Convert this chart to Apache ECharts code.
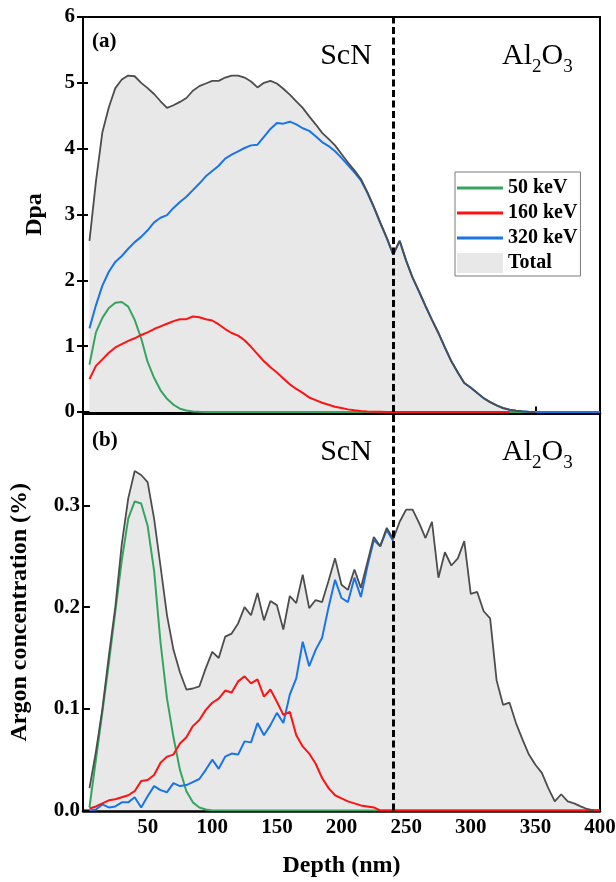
<!DOCTYPE html>
<html>
<head>
<meta charset="utf-8">
<title>Dpa and Ar concentration vs depth</title>
<script src="https://cdn.jsdelivr.net/npm/echarts@6/dist/echarts.min.js"></script>
<style>
  html, body { margin: 0; padding: 0; background: #fff; }
  #chart { width: 616px; height: 882px; }
</style>
</head>
<body>
<div id="chart"></div>
<script>
// Depth grid (nm), shared by every profile
const depth = [5, 10, 15, 20, 25, 30, 35, 40, 45, 50, 55, 60, 65, 70, 75, 80, 85, 90, 95, 100,
  105, 110, 115, 120, 125, 130, 135, 140, 145, 150, 155, 160, 165, 170, 175, 180, 185, 190, 195, 200,
  205, 210, 215, 220, 225, 230, 235, 240, 245, 250, 255, 260, 265, 270, 275, 280, 285, 290, 295, 300,
  305, 310, 315, 320, 325, 330, 335, 340, 345, 350, 355, 360, 365, 370, 375, 380, 385, 390, 395, 400];

// (a) displacement damage, dpa
const dpa50 = [0.72, 1.21, 1.43, 1.58, 1.66, 1.67, 1.6, 1.4, 1.12, 0.76, 0.52, 0.33, 0.2, 0.11, 0.05, 0.022, 0.008, 0.002, 0, 0,
  0, 0, 0, 0, 0, 0, 0, 0, 0, 0, 0, 0, 0, 0, 0, 0, 0, 0, 0, 0,
  0, 0, 0, 0, 0, 0, 0, 0, 0, 0, 0, 0, 0, 0, 0, 0, 0, 0, 0, 0,
  0, 0, 0, 0, 0, 0, 0, 0, 0, 0, 0, 0, 0, 0, 0, 0, 0, 0, 0, 0];
const dpa160 = [0.5, 0.7, 0.8, 0.9, 0.98, 1.03, 1.08, 1.12, 1.17, 1.21, 1.26, 1.3, 1.34, 1.38, 1.41, 1.41, 1.45, 1.44, 1.41, 1.39,
  1.33, 1.26, 1.2, 1.16, 1.09, 0.99, 0.88, 0.77, 0.68, 0.6, 0.51, 0.42, 0.35, 0.29, 0.22, 0.18, 0.14, 0.11, 0.08, 0.06,
  0.04, 0.025, 0.015, 0.008, 0.004, 0.002, 0, 0, 0, 0, 0, 0, 0, 0, 0, 0, 0, 0, 0, 0,
  0, 0, 0, 0, 0, 0, null, null, null, null, null, null, null, null, null, null, null, null, null, null];
const dpa320 = [1.27, 1.62, 1.92, 2.13, 2.28, 2.37, 2.48, 2.58, 2.66, 2.76, 2.88, 2.95, 2.99, 3.1, 3.19, 3.27, 3.37, 3.47, 3.58, 3.66,
  3.74, 3.85, 3.91, 3.96, 4.01, 4.05, 4.06, 4.18, 4.3, 4.39, 4.38, 4.41, 4.37, 4.31, 4.27, 4.19, 4.1, 4.04, 3.96, 3.86,
  3.75, 3.64, 3.52, 3.33, 3.11, 2.87, 2.64, 2.39, 2.6, 2.3, 2.04, 1.83, 1.61, 1.4, 1.2, 0.98, 0.77, 0.6, 0.44, 0.37,
  0.29, 0.21, 0.15, 0.1, 0.06, 0.035, 0.02, 0.01, 0.003, 0, 0, 0, 0, 0, 0, 0, 0, 0, 0, 0];
const dpaTotal = [2.6, 3.5, 4.25, 4.63, 4.92, 5.05, 5.11, 5.1, 5.0, 4.92, 4.83, 4.72, 4.62, 4.66, 4.71, 4.77, 4.88, 4.95, 4.99, 5.03,
  5.03, 5.08, 5.11, 5.11, 5.08, 5.02, 4.93, 5.0, 5.03, 4.99, 4.91, 4.82, 4.72, 4.62, 4.49, 4.37, 4.24, 4.15, 4.05, 3.92,
  3.79, 3.67, 3.54, 3.34, 3.12, 2.88, 2.65, 2.39, 2.6, 2.3, 2.04, 1.83, 1.61, 1.4, 1.2, 0.98, 0.77, 0.6, 0.44, 0.37,
  0.29, 0.21, 0.15, 0.1, 0.06, 0.035, 0.02, 0.01, 0.003, 0, null, null, null, null, null, null, null, null, null, null];

// (b) argon concentration, %
const ar50 = [0.003, 0.05, 0.097, 0.145, 0.196, 0.246, 0.287, 0.304, 0.302, 0.28, 0.236, 0.165, 0.11, 0.072, 0.04, 0.019, 0.008, 0.003, 0.001, 0,
  0, 0, 0, 0, 0, 0, 0, 0, 0, 0, 0, 0, 0, 0, 0, 0, 0, 0, 0, 0,
  0, 0, 0, 0, 0, 0, 0, 0, 0, 0, 0, 0, 0, 0, 0, 0, 0, 0, 0, 0,
  0, 0, 0, 0, 0, 0, 0, 0, 0, 0, 0, 0, 0, 0, 0, 0, 0, 0, 0, 0];
const ar160 = [0.002, 0.004, 0.007, 0.01, 0.011, 0.013, 0.015, 0.019, 0.029, 0.03, 0.035, 0.047, 0.053, 0.055, 0.066, 0.072, 0.083, 0.089, 0.099, 0.106,
  0.11, 0.118, 0.116, 0.127, 0.132, 0.125, 0.129, 0.112, 0.119, 0.107, 0.094, 0.097, 0.074, 0.063, 0.056, 0.046, 0.032, 0.022, 0.015, 0.012,
  0.009, 0.007, 0.005, 0.004, 0.003, 0, 0, 0, 0, 0, 0, 0, 0, 0, 0, 0, 0, 0, 0, 0,
  0, 0, 0, 0, 0, 0, 0, 0, 0, 0, 0, 0, 0, 0, 0, 0, 0, 0, 0, 0];
const ar320 = [0, 0.001, 0.006, 0.003, 0.004, 0.008, 0.008, 0.013, 0.003, 0.014, 0.024, 0.02, 0.018, 0.027, 0.024, 0.025, 0.028, 0.031, 0.04, 0.05,
  0.041, 0.053, 0.056, 0.055, 0.068, 0.067, 0.086, 0.074, 0.084, 0.096, 0.086, 0.114, 0.13, 0.166, 0.142, 0.158, 0.17, 0.2, 0.227, 0.209,
  0.205, 0.229, 0.21, 0.24, 0.266, 0.26, 0.276, 0.265, null, null, null, null, null, null, null, null, null, null, null, null,
  null, null, null, null, null, null, null, null, null, null, null, null, null, null, null, null, null, null, null, null];
const arTotal = [0.022, 0.058, 0.1, 0.152, 0.2, 0.262, 0.307, 0.334, 0.33, 0.323, 0.287, 0.24, 0.192, 0.158, 0.136, 0.119, 0.12, 0.122, 0.14, 0.156,
  0.15, 0.171, 0.174, 0.184, 0.2, 0.192, 0.214, 0.187, 0.206, 0.202, 0.178, 0.211, 0.204, 0.232, 0.199, 0.207, 0.205, 0.226, 0.248, 0.222,
  0.217, 0.237, 0.219, 0.244, 0.269, 0.26, 0.278, 0.267, 0.284, 0.296, 0.296, 0.283, 0.268, 0.284, 0.229, 0.254, 0.241, 0.248, 0.265, 0.213,
  0.215, 0.196, 0.189, 0.128, 0.104, 0.106, 0.086, 0.07, 0.055, 0.045, 0.037, 0.022, 0.009, 0.016, 0.009, 0.007, 0.004, 0.0015, 0, null];

const seriesNames = ['50 keV', '160 keV', '320 keV', 'Total'];
const interfaceDepth = 240;   // ScN / Al2O3 interface, nm

const serif = "'Liberation Serif', 'Times New Roman', Times, serif";
const COLORS = { '50 keV': '#35a45e', '160 keV': '#ff1212', '320 keV': '#1a74e8' };
const TOTAL_LINE = '#4d4d4d';
const TOTAL_FILL = '#e8e8e8';

const pts = vals => depth.map((d, i) => [d, vals[i]]);

function panelSeries(gridIdx, yIdx, v50, v160, v320, vTot) {
  const base = {
    type: 'line', xAxisIndex: gridIdx, yAxisIndex: yIdx, symbol: 'none',
    silent: true, animation: false, connectNulls: false, emphasis: { disabled: true }
  };
  const colored = (name, vals) => ({
    ...base, name, data: pts(vals), z: 2,
    lineStyle: { color: COLORS[name], width: 2 }, itemStyle: { color: COLORS[name] }
  });
  return [
    { ...base, name: 'Total', data: pts(vTot), z: 1,
      lineStyle: { width: 0, opacity: 0 }, itemStyle: { color: TOTAL_FILL },
      areaStyle: { color: TOTAL_FILL, opacity: 1 } },
    colored('50 keV', v50),
    colored('320 keV', v320),
    colored('160 keV', v160),
    { ...base, name: 'Total', data: pts(vTot), z: 4,
      lineStyle: { color: TOTAL_LINE, width: 1.8 }, itemStyle: { color: TOTAL_LINE },
      markLine: {
        silent: true, animation: false, symbol: ['none', 'none'], label: { show: false },
        lineStyle: { color: '#000', width: 3, type: [7, 3.5], opacity: 1 },
        emphasis: { disabled: true },
        data: [{ xAxis: interfaceDepth }]
      } }
  ];
}

// text helpers
const measureCtx = document.createElement('canvas').getContext('2d');
function textWidth(t, font) { measureCtx.font = font; return measureCtx.measureText(t).width; }
function txt(t, x, y, size, weight, align) {
  const font = (weight || 'normal') + ' ' + size + 'px ' + serif;
  return {
    type: 'text', x, y, silent: true, z: 100,
    style: { text: t, font, fill: '#000', align: align || 'left', verticalAlign: 'middle',
             textAlign: align || 'left', textVerticalAlign: 'middle' }
  };
}
// chemical formula with subscripts, e.g. Al2O3
function formula(parts, x, y) {
  const out = [];
  let cx = x;
  parts.forEach(([t, sub]) => {
    const size = sub ? 19 : 30;
    out.push(txt(t, cx, sub ? y + 11.5 : y, size));
    cx += textWidth(t, 'normal ' + size + 'px ' + serif);
  });
  return out;
}
const AL2O3 = [['Al', false], ['2', true], ['O', false], ['3', true]];

const axisBlack = { color: '#000', width: 2 };
const tickFont = { fontFamily: serif, fontWeight: 'bold', fontSize: 21, color: '#000' };
const titleFont = { fontFamily: serif, fontWeight: 'bold', fontSize: 24, color: '#000' };

// legend key for a plain line: a thin bar spanning the whole key width
const LINE_KEY = 'path://M0,0 L46,0 L46,3 L0,3 Z';
const lineLegend = name => ({ name, icon: LINE_KEY, itemStyle: { color: COLORS[name], borderWidth: 0, opacity: 1 } });

const option = {
  animation: false,
  backgroundColor: '#fff',
  grid: [
    { left: 83, top: 17, width: 517, height: 395, show: true, borderColor: '#000', borderWidth: 2,
      backgroundColor: 'transparent', containLabel: false, outerBoundsMode: 'none' },
    { left: 83, top: 414, width: 517, height: 396.5, show: true, borderColor: '#000', borderWidth: 2,
      backgroundColor: 'transparent', containLabel: false, outerBoundsMode: 'none' }
  ],
  xAxis: [
    { gridIndex: 0, type: 'value', position: 'bottom', min: 0, max: 400, interval: 50, offset: 1.5,
      axisLine: { show: true, onZero: false, lineStyle: { color: '#000', width: 2.5 } },
      axisTick: { show: true, inside: true, length: 7, lineStyle: axisBlack },
      axisLabel: { show: false }, splitLine: { show: false } },
    { gridIndex: 1, type: 'value', position: 'bottom', min: 0, max: 400, interval: 50, offset: 1,
      name: 'Depth (nm)', nameLocation: 'middle', nameGap: 42, nameTextStyle: titleFont,
      axisLine: { show: true, onZero: false, lineStyle: { color: '#000', width: 2.5 } },
      axisTick: { show: true, inside: true, length: 7, lineStyle: axisBlack },
      axisLabel: { ...tickFont, margin: 6, formatter: v => (v === 0 ? '' : String(v)) },
      splitLine: { show: false } }
  ],
  yAxis: [
    { gridIndex: 0, type: 'value', position: 'left', min: 0, max: 6, interval: 1,
      name: 'Dpa', nameLocation: 'middle', nameGap: 36, nameTextStyle: titleFont,
      axisLine: { show: true, onZero: false, lineStyle: axisBlack },
      axisTick: { show: true, inside: false, length: 6, lineStyle: axisBlack },
      axisLabel: { ...tickFont, margin: 8 }, splitLine: { show: false } },
    { gridIndex: 0, type: 'value', position: 'left', min: 0, max: 6, interval: 1,
      axisLine: { show: false },
      axisTick: { show: true, inside: true, length: 5, lineStyle: axisBlack },
      axisLabel: { show: false }, splitLine: { show: false } },
    { gridIndex: 1, type: 'value', position: 'left', min: 0, max: 0.39, interval: 0.1,
      name: 'Argon concentration (%)', nameLocation: 'middle', nameGap: 51, nameTextStyle: titleFont,
      axisLine: { show: true, onZero: false, lineStyle: axisBlack },
      axisTick: { show: true, inside: true, length: 7, lineStyle: axisBlack },
      axisLabel: { ...tickFont, margin: 3, showMaxLabel: false, formatter: v => v.toFixed(1) },
      splitLine: { show: false } }
  ],
  legend: {
    orient: 'vertical', left: 455, top: 172,
    padding: [6, 3, 3, 2], itemGap: 5, itemWidth: 46, itemHeight: 20, itemTextGap: 5,
    backgroundColor: '#fff', borderColor: '#7a7a7a', borderWidth: 1,
    selectedMode: false, z: 50,
    textStyle: { fontFamily: serif, fontWeight: 'bold', fontSize: 20, color: '#000' },
    data: [
      lineLegend(seriesNames[0]),
      lineLegend(seriesNames[1]),
      lineLegend(seriesNames[2]),
      { name: seriesNames[3], icon: 'rect', itemStyle: { color: TOTAL_FILL, borderWidth: 0 } }
    ]
  },
  graphic: [
    txt('(a)', 92, 42, 21, 'bold'),
    txt('ScN', 346, 56, 30, 'normal', 'center'),
    ...formula(AL2O3, 502, 56),
    txt('(b)', 92, 441, 21, 'bold'),
    txt('ScN', 346, 452, 30, 'normal', 'center'),
    ...formula(AL2O3, 502, 452)
  ],
  series: [
    ...panelSeries(0, 0, dpa50, dpa160, dpa320, dpaTotal),
    ...panelSeries(1, 2, ar50, ar160, ar320, arTotal)
  ]
};

const chart = echarts.init(document.getElementById('chart'), null, { renderer: 'canvas' });
chart.setOption(option);
</script>
</body>
</html>
